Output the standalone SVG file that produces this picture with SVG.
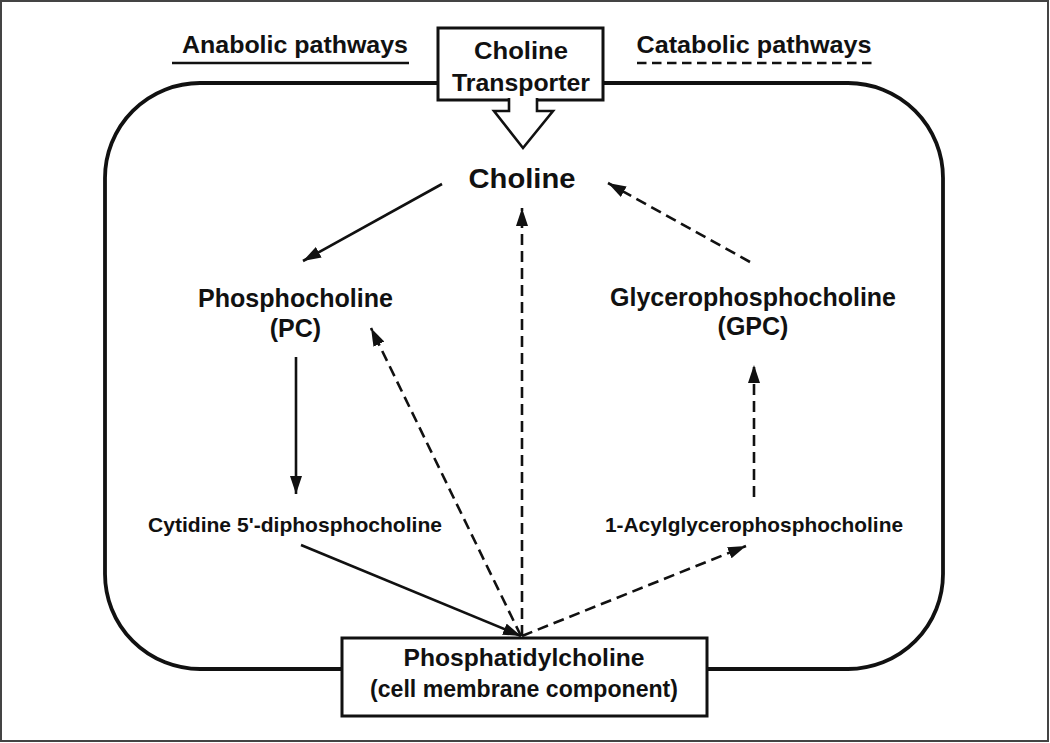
<svg xmlns="http://www.w3.org/2000/svg" width="1050" height="743" viewBox="0 0 1050 743">
<style>
text{font-family:"Liberation Sans",Arial,Helvetica,sans-serif;font-weight:bold;fill:#111;text-anchor:middle}
.ln{stroke:#111;stroke-width:2.6;fill:none}
.dash{stroke-dasharray:11 6}
.box{fill:#fff;stroke:#111;stroke-width:3}
</style>
<defs>
<marker id="ah" viewBox="0 0 18 12" refX="18" refY="6" markerWidth="18" markerHeight="12" markerUnits="userSpaceOnUse" orient="auto">
<path d="M0,0 L18,6 L0,12 z" fill="#111"/>
</marker>
</defs>
<rect x="1" y="1" width="1047" height="740" fill="#fff" stroke="#444" stroke-width="2"/>
<g id="legend">
<text x="295" y="53" font-size="24" textLength="226" lengthAdjust="spacingAndGlyphs">Anabolic pathways</text>
<line class="ln" x1="172" y1="63" x2="409" y2="63"/>
<text x="754" y="53" font-size="24" textLength="235" lengthAdjust="spacingAndGlyphs">Catabolic pathways</text>
<line class="ln" x1="637" y1="63" x2="875" y2="63" stroke-dasharray="9.5 5.5"/>
</g>
<g id="cell">
<rect x="105" y="83" width="838" height="586" rx="95" ry="95" fill="none" stroke="#111" stroke-width="3.8"/>
</g>
<g id="transporter">
<rect class="box" x="438" y="28" width="165" height="72"/>
<text x="521" y="59" font-size="24" textLength="94" lengthAdjust="spacingAndGlyphs">Choline</text>
<text x="521" y="91" font-size="24" textLength="138" lengthAdjust="spacingAndGlyphs">Transporter</text>
<path d="M509,98 L509,111 L494,111 L523,148 L553,111 L537,111 L537,98" fill="#fff" stroke="#111" stroke-width="2.6" stroke-linejoin="miter"/>
</g>
<g id="choline">
<text x="522" y="188" font-size="28.5" textLength="107" lengthAdjust="spacingAndGlyphs">Choline</text>
</g>
<g id="phosphocholine">
<text x="295.5" y="307" font-size="25" textLength="195" lengthAdjust="spacingAndGlyphs">Phosphocholine</text>
<text x="295.5" y="337" font-size="25">(PC)</text>
</g>
<g id="gpc">
<text x="753" y="306" font-size="25" textLength="286" lengthAdjust="spacingAndGlyphs">Glycerophosphocholine</text>
<text x="753" y="335" font-size="25">(GPC)</text>
</g>
<g id="cdp">
<text x="295" y="532" font-size="20.5" textLength="294" lengthAdjust="spacingAndGlyphs">Cytidine 5'-diphosphocholine</text>
</g>
<g id="acyl">
<text x="754" y="532" font-size="20.5" textLength="298" lengthAdjust="spacingAndGlyphs">1-Acylglycerophosphocholine</text>
</g>
<g id="pc-membrane">
<rect class="box" x="342" y="638" width="365" height="78"/>
<text x="524" y="666" font-size="24" textLength="241" lengthAdjust="spacingAndGlyphs">Phosphatidylcholine</text>
<text x="524" y="697" font-size="24" textLength="308" lengthAdjust="spacingAndGlyphs">(cell membrane component)</text>
</g>
<g id="connectors">
<line class="ln" x1="442" y1="184" x2="303" y2="261" marker-end="url(#ah)"/>
<line class="ln" x1="296" y1="357" x2="296" y2="494" marker-end="url(#ah)"/>
<line class="ln" x1="301" y1="545" x2="521" y2="636" marker-end="url(#ah)"/>
<line class="ln dash" x1="521" y1="636" x2="371" y2="328" marker-end="url(#ah)"/>
<line class="ln dash" x1="522" y1="636" x2="522" y2="208" marker-end="url(#ah)"/>
<line class="ln dash" x1="522" y1="636" x2="746" y2="546" marker-end="url(#ah)"/>
<line class="ln dash" x1="754" y1="497" x2="754" y2="365" marker-end="url(#ah)"/>
<line class="ln dash" x1="750" y1="262" x2="608" y2="183" marker-end="url(#ah)"/>
</g>
</svg>
